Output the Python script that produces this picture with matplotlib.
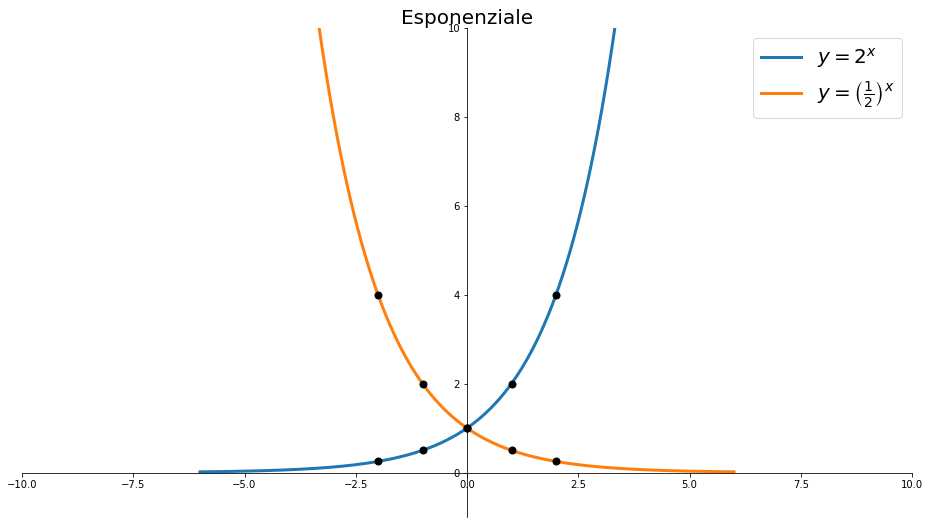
import numpy as np
import matplotlib.pyplot as plt

# data
x_min, x_max = -6, 6
x_points = [-2, -1, 0, 1, 2]
labels = [r"$y=2^x$", r"$y=\left(\frac{1}{2}\right)^x$"]
bases = [2.0, 0.5]

dpi = 72
fig = plt.figure(figsize=(930 / dpi, 524 / dpi), dpi=dpi)
ax = fig.add_axes([22 / 930, 1 - 517 / 524, 890 / 930, (517 - 28) / 524])

x = np.linspace(x_min, x_max, 600)
for b, lab in zip(bases, labels):
    ax.plot(x, b ** x, linewidth=3, label=lab)

for b in bases:
    xp = np.array(x_points, dtype=float)
    ax.plot(xp, b ** xp, 'o', color='black', markersize=7)

ax.set_xlim(-10, 10)
ax.set_ylim(-1, 10)
ax.set_yticks([0, 2, 4, 6, 8, 10])
ax.spines['left'].set_position(('data', 0))
ax.spines['bottom'].set_position(('data', 0))
ax.spines['top'].set_visible(False)
ax.spines['right'].set_visible(False)

ax.set_title("Esponenziale", fontsize=20, pad=4)
ax.legend(fontsize=20, loc='upper right')

plt.savefig("out.png", dpi=dpi)
